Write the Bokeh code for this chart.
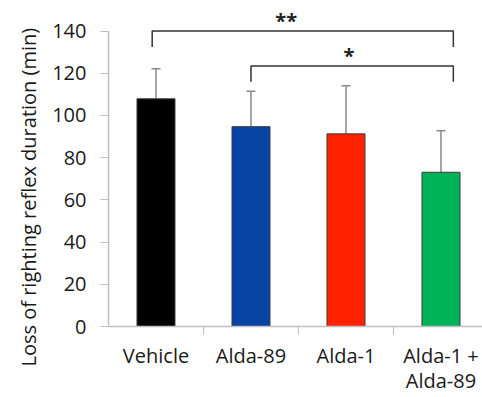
import math
from bokeh.plotting import figure
from bokeh.models import (ColumnDataSource, Whisker, TeeHead, FixedTicker, Range1d,
                          Label, Title)
from bokeh.embed import file_html
from bokeh.resources import INLINE

# ---- data ----
groups = ["Vehicle", "Alda-89", "Alda-1", "Alda-1 +\nAlda-89"]
means = [107.9, 94.7, 91.3, 73.1]
errors = [14.2, 16.8, 22.8, 19.7]
colors = ["#000000", "#0844a4", "#ff2200", "#00b359"]
y_ticks = [0, 20, 40, 60, 80, 100, 120, 140]
# significance brackets: (from group index, to group index, height, label)
sig_from = [0, 1]
sig_to = [3, 3]
sig_height = [140, 123.5]
sig_label = ["**", "*"]

FONT = "Open Sans"
xpos = [i + 1 for i in range(len(groups))]
upper = [m + e for m, e in zip(means, errors)]

p = figure(width=482, height=397, output_backend="svg", toolbar_location=None,
           x_range=Range1d(0.5, 4.437), y_range=Range1d(0, 154.5),
           min_border_left=108, min_border_right=0, min_border_top=0,
           min_border_bottom=70)
p.outline_line_color = None
p.xgrid.grid_line_color = None
p.ygrid.grid_line_color = None
p.background_fill_color = "white"
p.border_fill_color = "white"

src = ColumnDataSource(dict(x=xpos, top=means, upper=upper, color=colors))
p.vbar(x="x", top="top", width=0.4, bottom=0, fill_color="color",
       line_color="#3a3a3a", line_width=1, source=src)

w = Whisker(base="x", lower="top", upper="upper", source=src,
            line_color="#8a8a8a", line_width=1.5,
            upper_head=TeeHead(size=9, line_color="#8a8a8a", line_width=1.5),
            lower_head=None)
p.add_layout(w)

# brackets
drop = 7.5
left_off = [-0.04, 0.0]
right_off = 0.13
label_off = [-0.175, -0.035]
for i in range(len(sig_from)):
    x0 = xpos[sig_from[i]] + left_off[i]
    x1 = xpos[sig_to[i]] + right_off
    h = sig_height[i]
    p.line([x0, x0, x1, x1], [h - drop, h, h, h - drop], line_color="#333333",
           line_width=1.5)
    p.add_layout(Label(x=(x0 + x1) / 2 + label_off[i], y=h + 5,
                       text=sig_label[i], text_font=FONT, text_font_size="20px",
                       text_font_style="bold", text_color="#222222",
                       text_align="center", text_baseline="alphabetic"))

# x axis
xa = p.xaxis[0]
xa.ticker = FixedTicker(ticks=xpos, minor_ticks=[1.5, 2.5, 3.5])
xa.major_label_overrides = {x: g for x, g in zip(xpos, groups)}
xa.major_tick_line_color = None
xa.major_tick_out = 0
xa.major_tick_in = 0
xa.minor_tick_out = 8
xa.minor_tick_in = 0
xa.minor_tick_line_color = "#bfbfbf"
xa.axis_line_color = "#bfbfbf"
xa.axis_line_width = 1.5
xa.major_label_text_font = FONT
xa.major_label_text_font_size = "20px"
xa.major_label_text_color = "#1a1a1a"
xa.major_label_text_line_height = 0.95
xa.major_label_standoff = 7

# y axis
ya = p.yaxis[0]
ya.ticker = FixedTicker(ticks=y_ticks)
ya.bounds = (0, 140)
ya.minor_tick_line_color = None
ya.major_tick_in = 0
ya.major_tick_out = 8
ya.major_tick_line_color = "#bfbfbf"
ya.axis_line_color = "#bfbfbf"
ya.axis_line_width = 1.5
ya.major_label_text_font = FONT
ya.major_label_text_font_size = "20px"
ya.major_label_text_color = "#1a1a1a"
ya.major_label_standoff = 14

ytitle = Title(text="Loss of righting reflex duration (min)", align="left",
               text_font=FONT, text_font_size="20px", text_font_style="normal",
               text_color="#1a1a1a", offset=-40, standoff=16)
p.add_layout(ytitle, "left")

open("out.html", "w").write(file_html(p, INLINE))
